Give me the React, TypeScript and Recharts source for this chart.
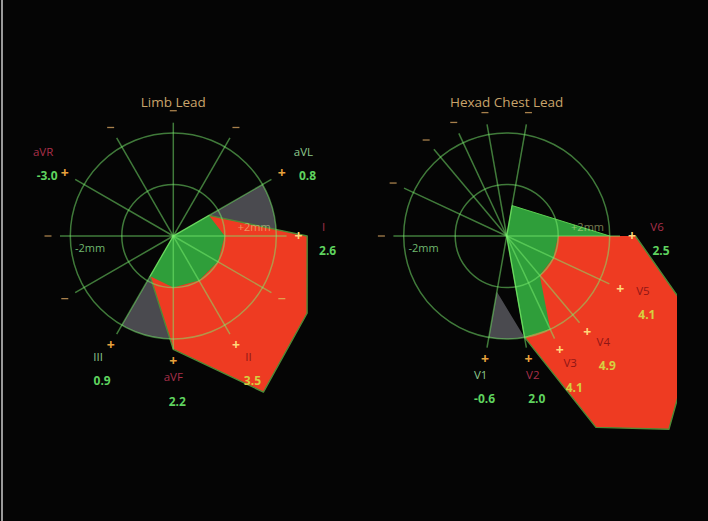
import React from 'react';
import { RadarChart, Radar, PolarGrid, PolarAngleAxis, PolarRadiusAxis } from 'recharts';

// ---------- data (ST deviation, mm) ----------
const LIMB_LEADS = ['aVL', 'I', 'II', 'aVF', 'III', 'aVR'];
const LIMB_ANGLES = [330, 0, 60, 90, 120, 210]; // lead axis, degrees clockwise from lead I
const LIMB_VALUES = [0.8, 2.6, 3.5, 2.2, 0.9, -3.0];
const LIMB_THRESHOLDS = [1, 1, 1, 1, 1, 1];
const LIMB_SEQUENCE = ['aVL', 'I', '-aVR', 'II', 'aVF', 'III'];
const LIMB_GRAY_FROM = [0.8, 2, 2, 2, 2, 0.9];

const CHEST_LEADS = ['V6', 'V5', 'V4', 'V3', 'V2', 'V1'];
const CHEST_ANGLES = [0, 25, 50, 65, 80, 100];
const CHEST_VALUES = [2.5, 4.1, 4.9, 4.1, 2.0, -0.6];
const CHEST_THRESHOLDS = [1, 1, 1, 2, 2, 2];
const CHEST_SEQUENCE = ['V6', 'V5', 'V4', 'V3', 'V2', 'V1'];
const CHEST_GRAY_FROM = [2, 2, 2, 2, 2, 1.1];

const RING_TICKS = [1, 2];
const RING_MAX = 2;
const RADIUS_MAX = 2.2;
const SCALE_TEXT = '2mm';

// ---------- style ----------
const FONT = '"Open Sans", "DejaVu Sans", sans-serif';
const BG = '#050505';
const RED = '#ee3b22';
const GREEN = '#2f9e3a';
const GRAY = '#4a4a4f';
const GRID = '#7cf070';
const OUTER_R = 113.3;
const CY = 176;

type Row = {
  ang: number;
  dev: number;
  pole: boolean;
  lead: string;
  thr: number;
  green: number;
  red: [number, number] | null;
  gray: [number, number] | null;
};

function normFrom(a: number, start: number) {
  let r = a;
  while (r < start) r += 360;
  while (r >= start + 360) r -= 360;
  return r;
}

function buildRows(
  leads: string[],
  angles: number[],
  values: number[],
  thresholds: number[],
  sequence: string[],
  grayFrom: number[]
): Row[] {
  const idx = (n: string) => leads.indexOf(n);
  const start = angles[idx(sequence[0])];
  const base: Omit<Row, 'green' | 'red' | 'gray'>[] = [];
  leads.forEach((lead, i) => {
    base.push({ ang: angles[i], dev: values[i], pole: true, lead, thr: thresholds[i] });
    base.push({ ang: (angles[i] + 180) % 360, dev: -values[i], pole: false, lead, thr: thresholds[i] });
  });
  base.sort((a, b) => normFrom(a.ang, start) - normFrom(b.ang, start));
  const seqAngles = sequence.map((s) => {
    const neg = s.startsWith('-');
    const i = idx(neg ? s.slice(1) : s);
    return neg ? (angles[i] + 180) % 360 : angles[i];
  });
  return base.map((r) => {
    const j = seqAngles.indexOf(r.ang);
    return {
      ...r,
      green: Math.min(Math.max(r.dev, 0), RING_MAX),
      red: j >= 0 && r.dev > 0 ? [Math.min(r.dev, r.thr), r.dev] : null,
      gray: j >= 0 ? [grayFrom[j], RING_MAX] : null,
    };
  });
}

const LIMB_ROWS = buildRows(LIMB_LEADS, LIMB_ANGLES, LIMB_VALUES, LIMB_THRESHOLDS, LIMB_SEQUENCE, LIMB_GRAY_FROM);
const CHEST_ROWS = buildRows(CHEST_LEADS, CHEST_ANGLES, CHEST_VALUES, CHEST_THRESHOLDS, CHEST_SEQUENCE, CHEST_GRAY_FROM);

const RAD = Math.PI / 180;

function rangePoints(props: any) {
  return (props.points || []).filter(
    (p: any) => Array.isArray(p.value) && Number.isFinite(p.radius) && Number.isFinite(p.x)
  );
}

function polar(cx: number, cy: number, r: number, a: number) {
  return [cx + r * Math.cos(-a * RAD), cy + r * Math.sin(-a * RAD)];
}

function GrayShape(props: any) {
  const pts = rangePoints(props);
  if (pts.length < 2) return null;
  const { cx, cy } = pts[0];
  const R = pts[0].radius;
  const a0 = pts[0].angle;
  let a1 = pts[pts.length - 1].angle;
  while (a1 > a0) a1 -= 360;
  const [x0, y0] = polar(cx, cy, R, a0);
  const [x1, y1] = polar(cx, cy, R, a1);
  const large = a0 - a1 > 180 ? 1 : 0;
  let d = `M${x0},${y0} A${R},${R} 0 ${large} 1 ${x1},${y1}`;
  for (let i = pts.length - 1; i >= 0; i--) {
    const p = pts[i];
    const [x, y] = polar(cx, cy, (p.radius * p.value[0]) / p.value[1], p.angle);
    d += ` L${x},${y}`;
  }
  d += ' Z';
  return <path d={d} fill={GRAY} stroke="none" />;
}

function RedShape(props: any) {
  const pts = rangePoints(props);
  if (pts.length < 2) return null;
  const { cx, cy } = pts[0];
  const outer = pts.map((p: any) => `${p.x},${p.y}`);
  const inner = pts
    .slice()
    .reverse()
    .map((p: any) => {
      const [x, y] = polar(cx, cy, (p.radius * p.value[0]) / p.value[1], p.angle);
      return `${x},${y}`;
    });
  const ring = `M${outer.join(' L')} L${inner.join(' L')} Z`;
  const edge = `M${outer.join(' L')}`;
  return (
    <g>
      <path d={ring} fill={RED} stroke="none" />
      <path d={edge} fill="none" stroke="#4f8a36" strokeWidth={1.4} strokeLinejoin="round" />
    </g>
  );
}

function LeadTick(props: any) {
  const { x, y, payload, rows } = props;
  const row: Row | undefined = rows.find((r: Row) => r.ang === payload.value);
  if (!row) return null;
  const a = row.ang * RAD;
  const ux = Math.cos(a);
  const uy = Math.sin(a);
  const inRed = (lim: number) => !!row.red && row.dev > lim;
  const out: React.ReactNode[] = [];
  if (row.pole) {
    const elevated = Math.abs(row.dev) >= row.thr;
    const nx = x + ux * 25;
    const ny = y + uy * 25 - 9;
    out.push(
      <text key="s" x={x} y={y} dy="0.36em" textAnchor="middle" fontFamily={FONT} fontSize={14} fontWeight={700}
        fill={inRed(2.45) ? '#ffd77a' : '#e8a23c'}>+</text>
    );
    out.push(
      <text key="n" x={nx} y={ny} dy="0.36em" textAnchor="middle" fontFamily={FONT} fontSize={11.5}
        fill={elevated ? (inRed(2.9) ? '#8e1616' : '#a8304a') : '#8cc88c'}>{row.lead}</text>
    );
    out.push(
      <text key="v" x={nx + 4} y={ny + 24} dy="0.36em" textAnchor="middle" fontFamily={FONT} fontSize={12} fontWeight={700}
        fill={inRed(3.3) ? '#d6d040' : '#5fd35f'}>{row.dev.toFixed(1)}</text>
    );
  } else {
    out.push(
      <line key="s" x1={x - 3.5} y1={y} x2={x + 3.5} y2={y} stroke={inRed(2.45) ? '#e0a050' : '#a8804c'} strokeWidth={1.3} />
    );
  }
  if (row.ang === 180) {
    out.push(
      <text key="m" x={x + 27} y={y + 12} dy="0.36em" textAnchor="start" fontFamily={FONT} fontSize={11}
        fill="#6fb86f">{'-' + SCALE_TEXT}</text>
    );
  }
  if (row.ang === 0) {
    out.push(
      <text key="p" x={x - 28} y={y - 9} dy="0.36em" textAnchor="end" fontFamily={FONT} fontSize={11}
        fill="#e8f0a0" fillOpacity={0.5}>{'+' + SCALE_TEXT}</text>
    );
  }
  return <g>{out}</g>;
}

function Panel({ rows, left, width, cx, title }: { rows: Row[]; left: number; width: number; cx: number; title: string }) {
  const ticks = rows.map((r) => r.ang);
  const common = {
    width,
    height: 400,
    data: rows,
    cx,
    cy: CY,
    outerRadius: OUTER_R,
    startAngle: 0,
    endAngle: -360,
    margin: { top: 0, right: 0, bottom: 0, left: 0 },
  };
  return (
    <>
      <div style={{ position: 'absolute', left, top: 60, zIndex: 1 }}>
        <RadarChart {...common}>
          <PolarAngleAxis type="number" dataKey="ang" domain={[0, 360]} ticks={ticks} tick={false} tickLine={false} axisLine={false} />
          <PolarRadiusAxis type="number" domain={[0, RADIUS_MAX]} allowDataOverflow ticks={RING_TICKS} tick={false} axisLine={false} />
          <Radar dataKey="gray" shape={(p: any) => <GrayShape {...p} />} isAnimationActive={false} dot={false} />
          <Radar dataKey="green" fill={GREEN} fillOpacity={1} stroke="#5ccc50" strokeWidth={1} isAnimationActive={false} dot={false} />
          <Radar dataKey="red" shape={(p: any) => <RedShape {...p} />} isAnimationActive={false} dot={false} />
        </RadarChart>
      </div>
      <div style={{ position: 'absolute', left, top: 60, zIndex: 2 }}>
        <RadarChart {...common}>
          <PolarGrid gridType="circle" radialLines stroke={GRID} strokeOpacity={0.5} strokeWidth={1.5} />
          <PolarAngleAxis
            type="number"
            dataKey="ang"
            domain={[0, 360]}
            ticks={ticks}
            tickSize={12}
            tickLine={false}
            axisLine={false}
            tick={(p: any) => <LeadTick {...p} rows={rows} />}
          />
          <PolarRadiusAxis type="number" domain={[0, RADIUS_MAX]} allowDataOverflow ticks={RING_TICKS} tick={false} axisLine={false} />
          <Radar dataKey="green" fill="none" stroke="none" isAnimationActive={false} dot={false} />
        </RadarChart>
      </div>
      <div
        style={{
          position: 'absolute',
          left: left + cx - 100,
          top: 93,
          width: 200,
          textAlign: 'center',
          fontFamily: FONT,
          fontSize: 13.5,
          lineHeight: '18px',
          color: '#c9a46a',
          zIndex: 3,
        }}
      >
        {title}
      </div>
    </>
  );
}

export default function App() {
  return (
    <div style={{ position: 'absolute', left: 0, top: 0, width: 708, height: 521, background: BG, overflow: 'hidden' }}>
      <div style={{ position: 'absolute', left: 1, top: 0, width: 2, height: 521, background: '#9a9a9a' }} />
      <Panel rows={LIMB_ROWS} left={0} width={340} cx={173.3} title="Limb Lead" />
      <Panel rows={CHEST_ROWS} left={340} width={337} cx={166.7} title="Hexad Chest Lead" />
    </div>
  );
}
